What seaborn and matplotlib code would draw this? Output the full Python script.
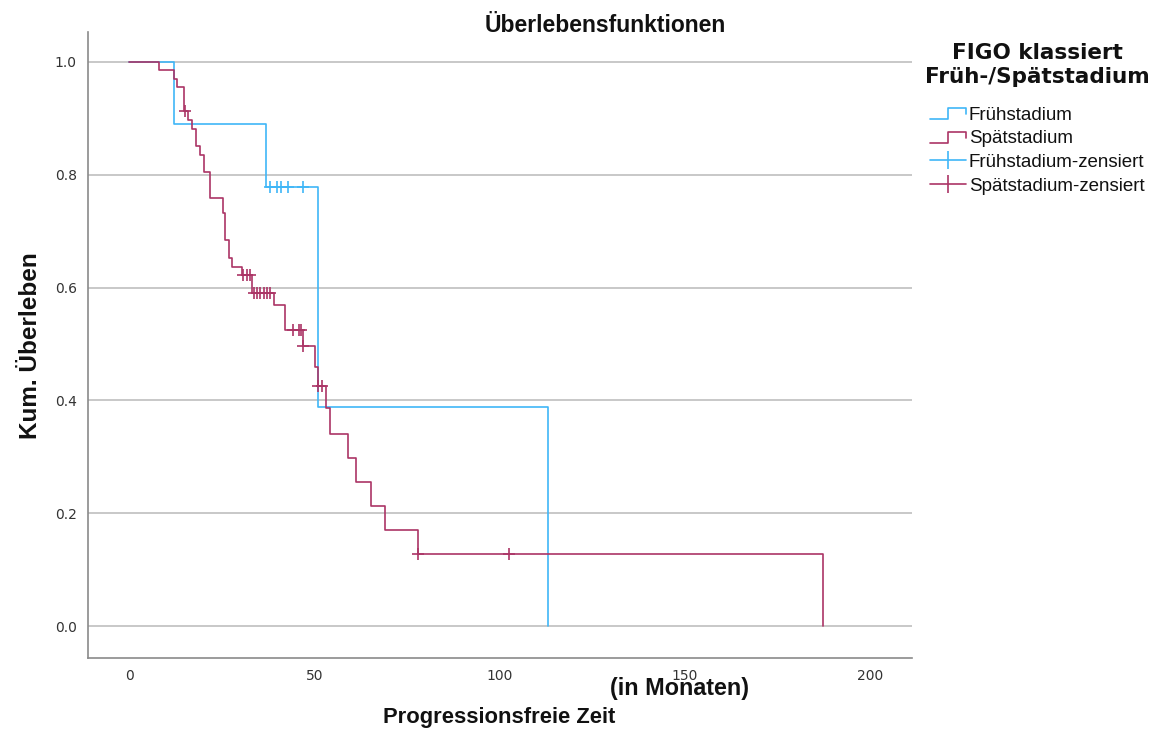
import numpy as np
import pandas as pd
import matplotlib
matplotlib.use("Agg")
import matplotlib.pyplot as plt
import seaborn as sns
from matplotlib.legend_handler import HandlerBase
from matplotlib.lines import Line2D

# Kaplan-Meier step data (time in months, cumulative survival after each step)
frueh_t = [0.0, 12.1, 37.0, 51.1, 113.1]
frueh_s = [1.0, 0.889, 0.778, 0.389, 0.0]
frueh_cens_t = [38.1, 39.9, 41.0, 43.0, 47.0]
frueh_cens_s = [0.778, 0.778, 0.778, 0.778, 0.778]

spaet_t = [0.0, 8.1, 12.1, 13.0, 14.8, 16.0, 16.9, 18.1, 19.2, 20.1, 21.9,
           25.3, 25.9, 27.0, 27.9, 30.4, 33.1, 39.0, 42.1, 47.0, 50.2, 51.1,
           53.2, 54.2, 59.2, 61.2, 65.2, 69.1, 78.1, 187.3]
spaet_s = [1.0, 0.986, 0.970, 0.956, 0.912, 0.897, 0.881, 0.850, 0.835, 0.804,
           0.759, 0.732, 0.684, 0.652, 0.636, 0.622, 0.590, 0.569, 0.525, 0.497,
           0.460, 0.426, 0.386, 0.341, 0.298, 0.256, 0.213, 0.171, 0.128, 0.0]
spaet_cens_t = [15.0, 30.8, 31.7, 32.5, 33.6, 34.5, 35.4, 36.3, 37.2, 38.1,
                44.3, 45.9, 46.5, 47.0, 51.1, 52.0, 78.1, 102.4]
spaet_cens_s = [0.912, 0.622, 0.622, 0.622, 0.590, 0.590, 0.590, 0.590, 0.590,
                0.590, 0.525, 0.525, 0.525, 0.497, 0.426, 0.426, 0.128, 0.128]

groups = ["Frühstadium", "Spätstadium"]
x_ticks = [0, 50, 100, 150, 200]
y_ticks = [0.0, 0.2, 0.4, 0.6, 0.8, 1.0]

blue = "#3fb6f7"
red = "#ab3566"
palette = {groups[0]: blue, groups[1]: red}

steps = pd.concat([
    pd.DataFrame({"Zeit": frueh_t, "Überleben": frueh_s, "Gruppe": groups[0]}),
    pd.DataFrame({"Zeit": spaet_t, "Überleben": spaet_s, "Gruppe": groups[1]}),
], ignore_index=True)
cens = pd.concat([
    pd.DataFrame({"Zeit": frueh_cens_t, "Überleben": frueh_cens_s, "Gruppe": groups[0]}),
    pd.DataFrame({"Zeit": spaet_cens_t, "Überleben": spaet_cens_s, "Gruppe": groups[1]}),
], ignore_index=True)

sns.set_theme(style="white")
plt.rcParams["font.family"] = ["DejaVu Sans"]

fig = plt.figure(figsize=(11.62, 7.31), dpi=100)
ax = fig.add_axes([88 / 1162, 1 - 657.5 / 731, (912 - 88) / 1162, (657.5 - 31.5) / 731])

for y in y_ticks:
    ax.axhline(y, color="#c4c4c4", lw=1.3, zorder=0)

sns.lineplot(data=steps, x="Zeit", y="Überleben", hue="Gruppe", palette=palette,
             drawstyle="steps-post", estimator=None, sort=False, lw=1.2,
             legend=False, ax=ax)
for g in groups:
    sub = cens[cens["Gruppe"] == g]
    ax.plot(sub["Zeit"], sub["Überleben"], ls="none", marker="+", ms=9,
            mew=1.2, color=palette[g])

ax.set_xlim(-11.1, 211.3)
ax.set_ylim(-0.0555, 1.0537)
ax.set_xticks(x_ticks)
ax.set_yticks(y_ticks)
ax.set_xticklabels([str(v) for v in x_ticks])
ax.set_yticklabels([f"{v:.1f}" for v in y_ticks])
ax.tick_params(axis="both", length=0, labelsize=10, colors="#333333")
ax.tick_params(axis="x", pad=8)
ax.tick_params(axis="y", pad=8)
for side in ["top", "right"]:
    ax.spines[side].set_visible(False)
for side in ["left", "bottom"]:
    ax.spines[side].set_color("#8a8a8a")
    ax.spines[side].set_linewidth(1.2)
ax.set_xlabel("")
ax.set_ylabel("")

bold = dict(family=["Liberation Sans"], weight="bold", color="#111111")
fig.text(605 / 1162, 1 - 25 / 731, "Überlebensfunktionen", ha="center",
         va="center", fontsize=16.5, **bold)
fig.text(499 / 1162, 1 - 717 / 731, "Progressionsfreie Zeit", ha="center",
         va="center", fontsize=15.8, **bold)
fig.text(679 / 1162, 1 - 688 / 731, "(in Monaten)", ha="center",
         va="center", fontsize=16.8, **bold)
fig.text(31 / 1162, 1 - 346 / 731, "Kum. Überleben", ha="center",
         va="center", rotation=90, fontsize=17.5, **bold)


class StepHandler(HandlerBase):
    def create_artists(self, legend, orig_handle, xdescent, ydescent,
                       width, height, fontsize, trans):
        x0 = -xdescent
        y0 = -ydescent
        xs = [x0, x0 + 0.5 * width, x0 + 0.5 * width, x0 + width, x0 + width]
        ys = [y0 + 0.05 * height, y0 + 0.05 * height, y0 + 0.85 * height,
              y0 + 0.85 * height, y0 + 0.4 * height]
        line = Line2D(xs, ys, color=orig_handle.get_color(), lw=1.2,
                      transform=trans)
        return [line]


h_f = Line2D([], [], color=blue)
h_s = Line2D([], [], color=red)
h_fc = Line2D([], [], color=blue, lw=1.2, marker="|", ms=13, mew=1.2)
h_sc = Line2D([], [], color=red, lw=1.2, marker="|", ms=13, mew=1.2)
leg = fig.legend([h_f, h_s, h_fc, h_sc],
                 ["Frühstadium", "Spätstadium", "Frühstadium-zensiert",
                  "Spätstadium-zensiert"],
                 handler_map={h_f: StepHandler(), h_s: StepHandler()},
                 loc="upper left", bbox_to_anchor=(925 / 1162, 1 - 43 / 731),
                 frameon=False, handlelength=1.9, handletextpad=0.15,
                 labelspacing=0.35, borderaxespad=0, borderpad=0,
                 title="FIGO klassiert\nFrüh-/Spätstadium",
                 prop={"family": ["Liberation Sans"], "size": 13.5},
                 title_fontproperties={"family": ["DejaVu Sans"],
                                       "weight": "bold", "size": 15.5})
leg.get_title().set_multialignment("center")
leg.get_title().set_color("#111111")
leg.get_title().set_linespacing(1.25)
for t in leg.get_texts():
    t.set_color("#111111")
leg._legend_box.sep = 14

fig.savefig("out.png", dpi=100)
